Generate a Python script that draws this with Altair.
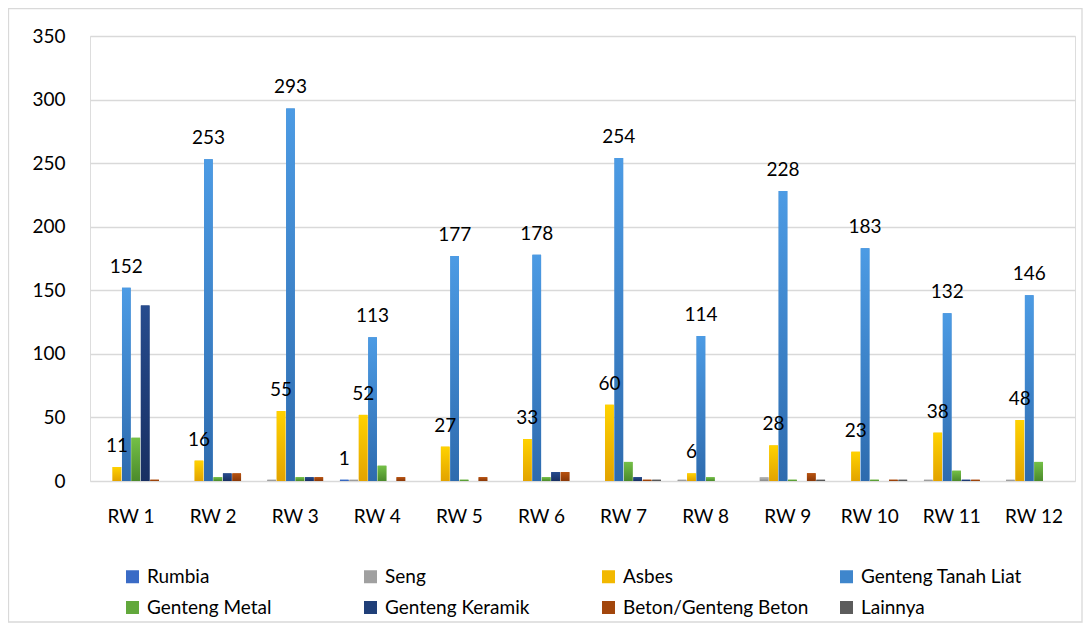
import altair as alt
import pandas as pd

rw = ["RW 1", "RW 2", "RW 3", "RW 4", "RW 5", "RW 6",
      "RW 7", "RW 8", "RW 9", "RW 10", "RW 11", "RW 12"]
series = ["Rumbia", "Seng", "Asbes", "Genteng Tanah Liat",
          "Genteng Metal", "Genteng Keramik", "Beton/Genteng Beton", "Lainnya"]

rumbia = [0, 0, 0, 1, 0, 0, 0, 0, 0, 0, 0, 0]
seng = [0, 0, 1, 1, 0, 0, 0, 1, 3, 0, 1, 1]
asbes = [11, 16, 55, 52, 27, 33, 60, 6, 28, 23, 38, 48]
tanah_liat = [152, 253, 293, 113, 177, 178, 254, 114, 228, 183, 132, 146]
metal = [34, 3, 3, 12, 1, 3, 15, 3, 1, 1, 8, 15]
keramik = [138, 6, 3, 0, 0, 7, 3, 0, 0, 0, 1, 0]
beton = [1, 6, 3, 3, 3, 7, 1, 0, 6, 1, 1, 0]
lainnya = [0, 0, 0, 0, 0, 0, 1, 0, 1, 1, 0, 0]

labeled = ["Rumbia", "Asbes", "Genteng Tanah Liat"]

flat = ["#3A6BC6", "#A0A0A0", "#F2B800", "#3F86CC",
        "#62A83C", "#203F78", "#A2460C", "#5C5C5C"]
grad_top = ["#4A80DA", "#B8B8B8", "#FFD200", "#4C9BE4",
            "#74C046", "#274C8E", "#B8520F", "#707070"]
grad_bot = ["#2C58AE", "#8C8C8C", "#E2A300", "#2E6BAE",
            "#4B8A2C", "#182F62", "#8A3808", "#474747"]

values = [rumbia, seng, asbes, tanah_liat, metal, keramik, beton, lainnya]
rows = []
for s, vals in zip(series, values):
    for r, v in zip(rw, vals):
        rows.append({"RW": r, "Jenis": s, "Jumlah": v})
df = pd.DataFrame(rows)

x_enc = alt.X("RW:N", sort=rw,
              scale=alt.Scale(paddingInner=0.09, paddingOuter=0.045),
              axis=alt.Axis(title=None, labelAngle=0, labelFontSize=19,
                            labelPadding=26, ticks=False, domain=False,
                            labelColor="#000000", grid=False))
xo_enc = alt.XOffset("Jenis:N", sort=series,
                     scale=alt.Scale(domain=series, paddingInner=0.08, paddingOuter=0))
y_enc = alt.Y("Jumlah:Q", scale=alt.Scale(domain=[0, 350], nice=False),
              axis=alt.Axis(title=None, values=list(range(0, 351, 50)),
                            labelFontSize=19, labelPadding=25, ticks=False,
                            domain=False, labelColor="#000000",
                            gridColor="#D9D9D9", gridWidth=1.3))

base = alt.Chart(df)

bars = base.mark_bar().encode(
    x=x_enc, xOffset=xo_enc, y=y_enc,
    color=alt.Color("Jenis:N", sort=series,
                    scale=alt.Scale(domain=series, range=flat),
                    legend=alt.Legend(orient="none", legendX=33, legendY=531,
                                      direction="horizontal", columns=4,
                                      title=None, symbolType="square",
                                      symbolSize=169, symbolStrokeWidth=0,
                                      labelFontSize=19, labelLimit=400,
                                      labelColor="#000000", labelOffset=5,
                                      gridAlign="all", columnPadding=28,
                                      rowPadding=11, padding=0))
)

layers = [bars]
for i, s in enumerate(series):
    g = base.transform_filter(alt.datum.Jenis == s).mark_bar(
        color=alt.Gradient(gradient="linear",
                           stops=[alt.GradientStop(color=grad_top[i], offset=0),
                                  alt.GradientStop(color=grad_bot[i], offset=1)],
                           x1=0, x2=0, y1=0, y2=1)
    ).encode(x=x_enc, xOffset=xo_enc, y=y_enc)
    layers.append(g)

labels = base.transform_filter(
    alt.FieldOneOfPredicate(field="Jenis", oneOf=labeled)
).transform_filter(alt.datum.Jumlah > 0).mark_text(
    dy=-21, baseline="middle", fontSize=19, color="#000000"
).encode(x=x_enc, xOffset=xo_enc, y=y_enc, text="Jumlah:Q")
layers.append(labels)

frame = alt.Chart(pd.DataFrame({"a": [0]})).mark_rect(
    filled=False, stroke="#D9D9D9", strokeWidth=1.3
).encode(x=alt.value(-81.5), x2=alt.value(992), y=alt.value(-27.5), y2=alt.value(586))
layers.append(frame)

chart = alt.layer(*layers).properties(
    width=985, height=445,
    autosize=alt.AutoSizeParams(type="none"),
    padding={"left": 82, "top": 28, "right": 8, "bottom": 143},
    background="white",
).configure_view(stroke=None).configure(font="Lato")

chart.save("out.html", embed_options={"renderer": "svg", "actions": False})
